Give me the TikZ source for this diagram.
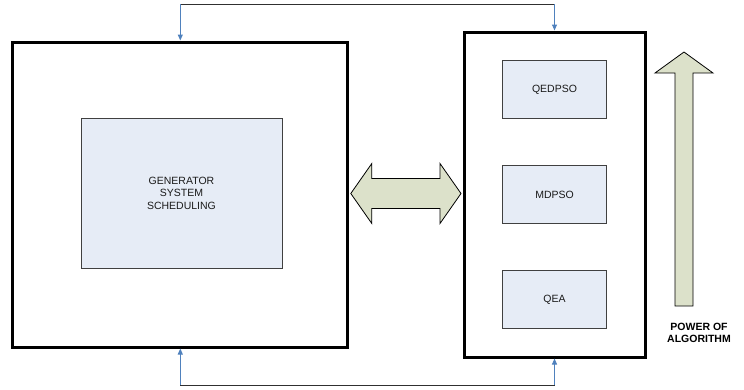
\documentclass[tikz,border=0pt]{standalone}
\usepackage{fontspec}
\setsansfont{Liberation Sans}
\usetikzlibrary{arrows.meta,positioning,calc}
\definecolor{boxstroke}{HTML}{000000}
\definecolor{innerfill}{HTML}{E6ECF6}
\definecolor{innerstroke}{HTML}{404040}
\definecolor{linkblue}{HTML}{4F81BD}
\definecolor{barline}{HTML}{303030}
\definecolor{fatfill}{HTML}{DCE1CA}
\definecolor{txt}{HTML}{1A1A1A}

\begin{document}
\begin{tikzpicture}[
  x=1pt, y=-1pt,
  font=\sffamily\fontsize{10.5}{12.5}\selectfont,
  bigbox/.style={
    draw=boxstroke,
    line width=3pt,
    fill=white,
    inner sep=0pt
  },
  innerbox/.style={
    draw=innerstroke,
    line width=0.9pt,
    fill=innerfill,
    align=center,
    text=txt,
    inner sep=0pt
  },
  algbox/.style={innerbox, minimum width=104pt, minimum height=58pt},
  link/.style={-{Triangle[length=6pt,width=5pt]}, line width=1pt, draw=linkblue},
  bar/.style={line width=1pt, draw=barline},
  fatarrow/.style={draw=black, line width=0.8pt, fill=fatfill, line join=miter}
]
  \useasboundingbox (0,0) rectangle (744,389);

  % Main blocks
  \node[bigbox, minimum width=335pt, minimum height=305pt] (system) at (180.3,194.5) {};
  \node[bigbox, minimum width=181pt, minimum height=325pt] (algos) at (554.5,194.5) {};

  % Problem block
  \node[innerbox, minimum width=201pt, minimum height=150pt] (sched) at (181.5,193)
    {GENERATOR\\SYSTEM\\SCHEDULING};

  % Algorithm stack
  \node[algbox] (mdpso) at (algos.center) {MDPSO};
  \node[algbox, above=46pt of mdpso] (qedpso) {QEDPSO};
  \node[algbox, below=46pt of mdpso] (qea) {QEA};

  % Feedback loops top and bottom
  \coordinate (toprail) at (0,4);
  \coordinate (botrail) at (0,385);
  \coordinate (topl) at (system.north |- toprail);
  \coordinate (topr) at (algos.north |- toprail);
  \coordinate (botl) at (system.south |- botrail);
  \coordinate (botr) at (algos.south |- botrail);
  \draw[bar] (topl) -- (topr);
  \draw[bar] (botl) -- (botr);
  \draw[link] (topl) -- (system.north);
  \draw[link] (topr) -- (algos.north);
  \draw[link] (botl) -- (system.south);
  \draw[link] (botr) -- (algos.south);

  % Exchange arrow between the blocks
  \coordinate (xl) at ($(system.east)+(1.5,-1)$);
  \coordinate (xr) at ($(algos.west)+(-1.5,-1)$);
  \draw[fatarrow] (xl) -- ++(21,-30) -- ++(0,15) -- ($(xr)+(-21,-15)$) -- ++(0,-15)
    -- (xr) -- ++(-21,30) -- ++(0,-15) -- ($(xl)+(21,15)$) -- ++(0,15) -- cycle;

  % Power scale
  \node[align=center, font=\sffamily\bfseries\fontsize{10.5}{12.5}\selectfont] (power) at (699,333)
    {POWER OF\\ALGORITHM};
  \coordinate (ptip) at (684,52);
  \draw[fatarrow] (ptip) -- ++(29,21) -- ++(-20,0) -- ++(0,233) -- ++(-18,0)
    -- ++(0,-233) -- ++(-20,0) -- cycle;
\end{tikzpicture}
\end{document}
